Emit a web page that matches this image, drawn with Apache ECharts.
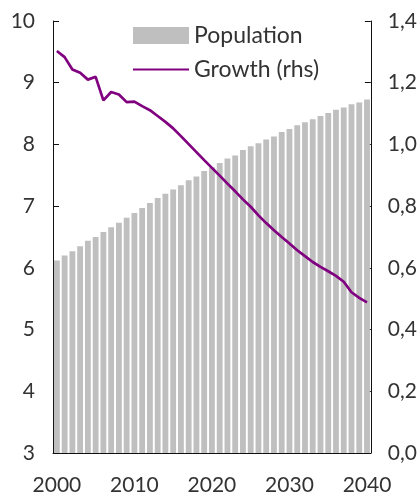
<!DOCTYPE html>
<html>
<head>
<meta charset="utf-8">
<script src="https://cdn.jsdelivr.net/npm/echarts@6/dist/echarts.min.js"></script>
<style>
  html, body { margin: 0; padding: 0; background: #fff; }
  #chart { width: 420px; height: 497px; }
</style>
</head>
<body>
<div id="chart"></div>
<script>
// years on the x axis
const years = []
for (let y = 2000; y <= 2040; y++) years.push(String(y))

// population, lhs
const population = [
  6.12, 6.20, 6.27, 6.35, 6.44, 6.50, 6.58, 6.66, 6.73, 6.81,
  6.89, 6.97, 7.05, 7.13, 7.20, 7.27, 7.34, 7.42, 7.48, 7.57,
  7.63, 7.70, 7.77, 7.82, 7.91, 7.97, 8.02, 8.08, 8.13, 8.20,
  8.25, 8.31, 8.36, 8.41, 8.46, 8.51, 8.56, 8.60, 8.65, 8.68,
  8.73
]

// growth, rhs
const growth = [
  1.303, 1.283, 1.243, 1.232, 1.210, 1.219, 1.143, 1.170, 1.162, 1.137,
  1.139, 1.124, 1.111, 1.092, 1.073, 1.052, 1.027, 1.001, 0.975, 0.949,
  0.924, 0.899, 0.873, 0.848, 0.822, 0.798, 0.770, 0.745, 0.722, 0.700,
  0.679, 0.657, 0.638, 0.619, 0.603, 0.589, 0.574, 0.555, 0.521, 0.503,
  0.488
]

const font = 'Lato'
const txt = '#333'

let myChart = echarts.init(document.getElementById('chart'))
myChart.setOption({
  animation: false,
  textStyle: { fontFamily: font },
  grid: { left: 53, right: 49, top: 21, bottom: 44, containLabel: false },
  legend: {
    orient: 'vertical',
    left: 127,
    top: 19,
    itemWidth: 56,
    itemHeight: 17,
    itemGap: 11,
    textStyle: { color: txt, fontSize: 23, fontFamily: font },
    data: [
      { name: 'Population', icon: 'rect' },
      // line only, hide the default circle marker
      { name: 'Growth (rhs)', itemStyle: { opacity: 0 } }
    ]
  },
  xAxis: {
    type: 'category',
    data: years,
    axisLine: { lineStyle: { color: '#111', width: 1 } },
    axisTick: { show: false },
    axisLabel: { interval: 9, color: txt, fontSize: 21, margin: 22 }
  },
  yAxis: [
    {
      type: 'value',
      min: 3, max: 10, interval: 1,
      splitLine: { show: false },
      axisLine: { show: true, lineStyle: { color: '#111' } },
      axisTick: { show: true, inside: true, length: 6 },
      axisLabel: { color: txt, fontSize: 21, margin: 18 }
    },
    {
      type: 'value',
      min: 0, max: 1.4, interval: 0.2,
      splitLine: { show: false },
      axisLine: { show: true, lineStyle: { color: '#111' } },
      axisTick: { show: true, inside: true, length: 6 },
      axisLabel: {
        color: txt, fontSize: 21, margin: 17,
        formatter: v => v.toFixed(1).replace('.', ',')
      }
    }
  ],
  series: [
    {
      name: 'Population',
      type: 'bar',
      data: population,
      barCategoryGap: '25%',
      itemStyle: { color: '#bfbfbf' }
    },
    {
      name: 'Growth (rhs)',
      type: 'line',
      yAxisIndex: 1,
      data: growth,
      symbol: 'none',
      lineStyle: { color: '#800080', width: 2.7 },
      itemStyle: { color: '#800080' },
      z: 5
    }
  ]
})
</script>
</body>
</html>
